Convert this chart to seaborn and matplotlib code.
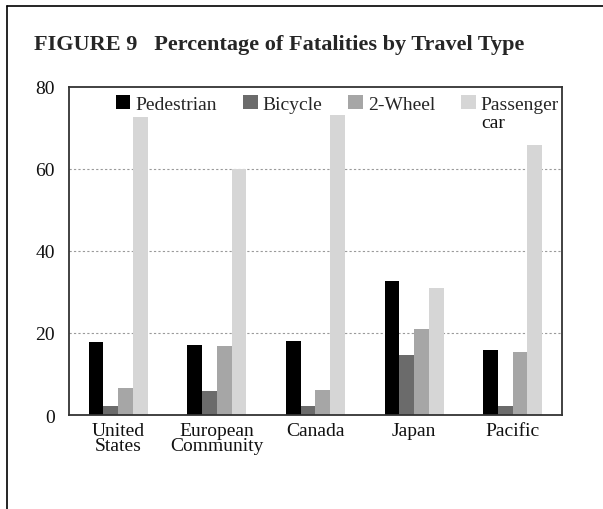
import pandas as pd
import seaborn as sns
import matplotlib.pyplot as plt
from matplotlib.lines import Line2D

regions = ["United\nStates", "European\nCommunity", "Canada", "Japan", "Pacific"]
travel_types = ["Pedestrian", "Bicycle", "2-Wheel", "Passenger\ncar"]
pedestrian = [17.8, 17.0, 18.0, 32.7, 15.8]
bicycle = [2.3, 5.8, 2.1, 14.6, 2.3]
two_wheel = [6.7, 16.8, 6.2, 20.9, 15.3]
passenger_car = [72.7, 60.0, 73.2, 31.0, 65.9]
colors = ["#000000", "#6b6b6b", "#a6a6a6", "#d6d6d6"]

rows = []
for vals, t in zip([pedestrian, bicycle, two_wheel, passenger_car], travel_types):
    for r, v in zip(regions, vals):
        rows.append({"Region": r, "Type": t, "Pct": v})
df = pd.DataFrame(rows)

sns.set_style("white")
plt.rcParams["font.family"] = ["Liberation Serif", "DejaVu Serif"]

fig = plt.figure(figsize=(6.03, 5.10), dpi=100)
ax = fig.add_axes([0.1144, 0.1843, 0.8176, 0.6432])

sns.barplot(data=df, x="Region", y="Pct", hue="Type", palette=colors,
            width=0.6, saturation=1, ax=ax, edgecolor="none", linewidth=0)

ax.set_xlim(-0.5, 4.5)
ax.set_ylim(0, 80)
ax.set_yticks([0, 20, 40, 60, 80])
ax.set_xlabel("")
ax.set_ylabel("")
ax.tick_params(axis="both", length=0, labelsize=14, colors="#111111")
ax.tick_params(axis="y", pad=10)
ax.tick_params(axis="x", pad=5)
for lbl in ax.get_xticklabels():
    lbl.set_linespacing(0.85)
for y in [20, 40, 60]:
    ax.axhline(y, color="#9a9a9a", lw=0.8, ls=(0, (2, 2)), zorder=0)
for s in ax.spines.values():
    s.set_visible(True)
    s.set_color("#333333")
    s.set_linewidth(1.3)

# legend: first line of each label, second line of "Passenger car" added below
handles, labels = ax.get_legend_handles_labels()
first_lines = [l.split("\n")[0] for l in labels]
leg = ax.legend(handles, first_lines, ncol=4, loc="upper left",
                bbox_to_anchor=(0.095, 0.975), frameon=False, fontsize=14,
                handlelength=0.75, handleheight=0.75, handletextpad=0.25,
                columnspacing=1.35, borderpad=0, borderaxespad=0)
fig.canvas.draw()
last = leg.get_texts()[-1]
bb = last.get_window_extent().transformed(fig.transFigure.inverted())
extra = labels[-1].split("\n")[1]
fig.text(bb.x0, bb.y0 - 0.002, extra, fontsize=14, ha="left", va="top",
         color="#111111")

fig.text(0.056, 0.912, "FIGURE 9   Percentage of Fatalities by Travel Type",
         fontsize=16, fontweight="bold", ha="left", va="center")

fig.add_artist(Line2D([0.012, 0.012], [0.0, 0.986], color="black", lw=1.2))
fig.add_artist(Line2D([0.012, 1.0], [0.986, 0.986], color="black", lw=1.2))

plt.savefig("out.png", dpi=100)
